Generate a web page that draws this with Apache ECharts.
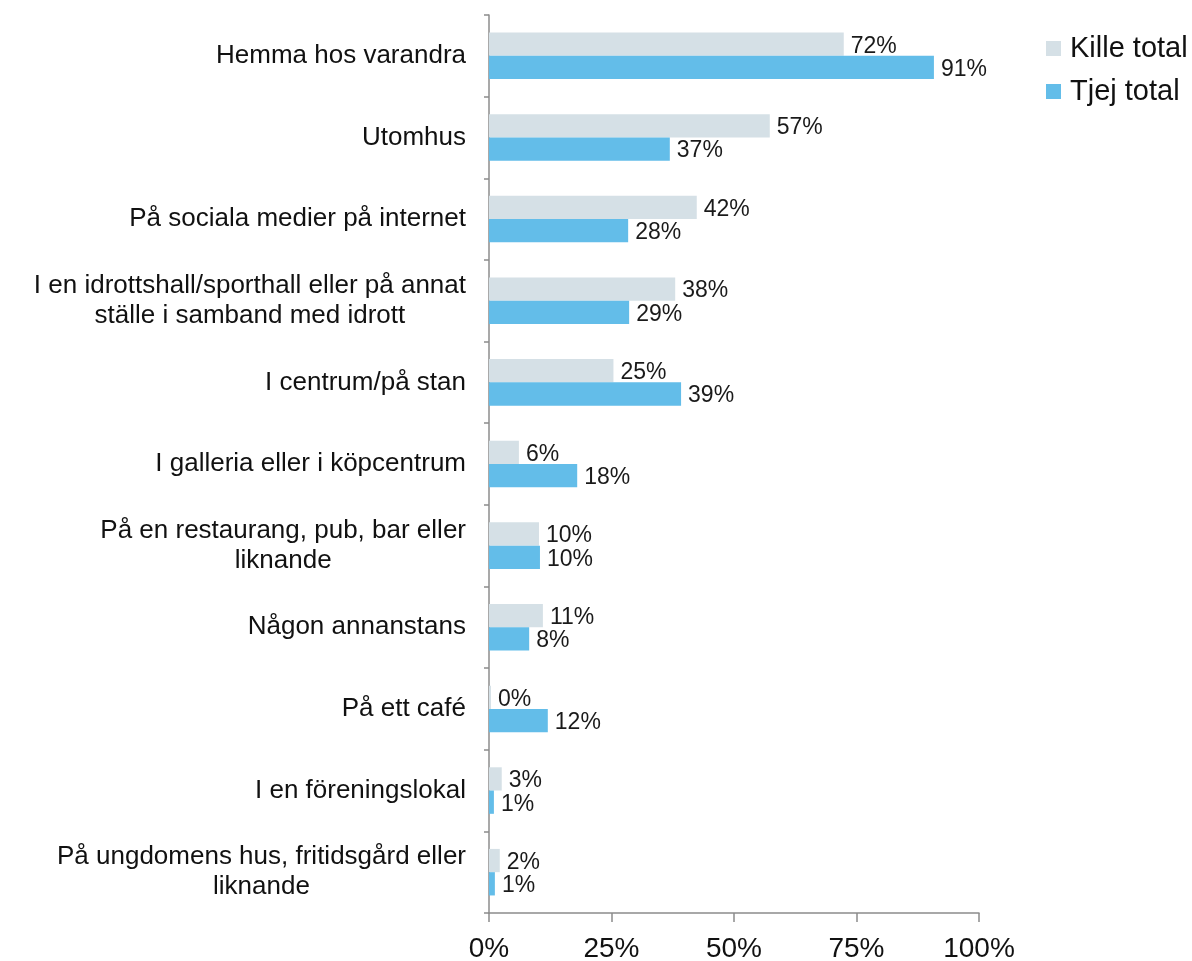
<!DOCTYPE html>
<html><head><meta charset="utf-8">
<script src="https://cdn.jsdelivr.net/npm/echarts@6/dist/echarts.min.js"></script>
<style>html,body{margin:0;padding:0;background:#fff}#c{width:1192px;height:961px}</style>
</head><body><div id="c"></div>
<script>
const categories = [
  'Hemma hos varandra',
  'Utomhus',
  'På sociala medier på internet',
  'I en idrottshall/sporthall eller på annat\nställe i samband med idrott',
  'I centrum/på stan',
  'I galleria eller i köpcentrum',
  'På en restaurang, pub, bar eller\nliknande',
  'Någon annanstans',
  'På ett café',
  'I en föreningslokal',
  'På ungdomens hus, fritidsgård eller\nliknande'
];
const killeTotal = [72.4, 57.3, 42.4, 38.0, 25.4, 6.1, 10.2, 11.0, 0.4, 2.6, 2.2];
const tjejTotal  = [90.8, 36.9, 28.4, 28.6, 39.2, 18.0, 10.4, 8.2, 12.0, 1.0, 1.2];
const xTicks = [0, 25, 50, 75, 100];

const chart = echarts.init(document.getElementById('c'));
const font = 'Liberation Sans, Arial, sans-serif';
const labelCfg = {
  show: true, position: 'right', distance: 7, offset: [0, 2],
  fontFamily: font, fontSize: 23, color: '#1a1a1a',
  formatter: p => Math.round(p.value) + '%'
};
chart.setOption({
  animation: false,
  legend: {
    orient: 'vertical', left: 1041, top: 29,
    itemWidth: 15, itemHeight: 15, itemGap: 14,
    icon: 'rect',
    textStyle: { fontFamily: font, fontSize: 29, color: '#111', padding: [0,0,0,4] },
    data: ['Kille total', 'Tjej total']
  },
  grid: { left: 489, right: 213, top: 15, bottom: 48, containLabel: false, outerBoundsMode: 'none' },
  xAxis: {
    type: 'value', min: xTicks[0], max: xTicks[xTicks.length - 1], interval: 25,
    axisLine: { show: true, lineStyle: { color: '#8c8c8c', width: 1.5 } },
    axisTick: { show: true, length: 9, lineStyle: { color: '#8c8c8c', width: 1.5 } },
    splitLine: { show: false },
    axisLabel: { fontFamily: font, fontSize: 28, color: '#111', margin: 22, formatter: v => v + '%' }
  },
  yAxis: {
    type: 'category', inverse: true, data: categories,
    axisLine: { show: true, lineStyle: { color: '#8c8c8c', width: 1.5 } },
    axisTick: { show: true, length: 5, interval: 0, lineStyle: { color: '#8c8c8c', width: 1.5 } },
    axisLabel: {
      interval: 0, margin: 23, fontFamily: font, fontSize: 26, color: '#111', lineHeight: 30,
      formatter: v => v.split('\n').map(s => '{c|' + s + '}').join('\n'),
      rich: { c: { align: 'center', fontFamily: font, fontSize: 26, color: '#111', lineHeight: 30 } }
    }
  },
  series: [
    { name: 'Kille total', type: 'bar', data: killeTotal, barGap: '0%', barCategoryGap: '43%',
      itemStyle: { color: '#d5e0e6' }, label: labelCfg },
    { name: 'Tjej total', type: 'bar', data: tjejTotal, barGap: '0%', barCategoryGap: '43%',
      itemStyle: { color: '#63bde9' }, label: labelCfg }
  ]
});
</script></body></html>
